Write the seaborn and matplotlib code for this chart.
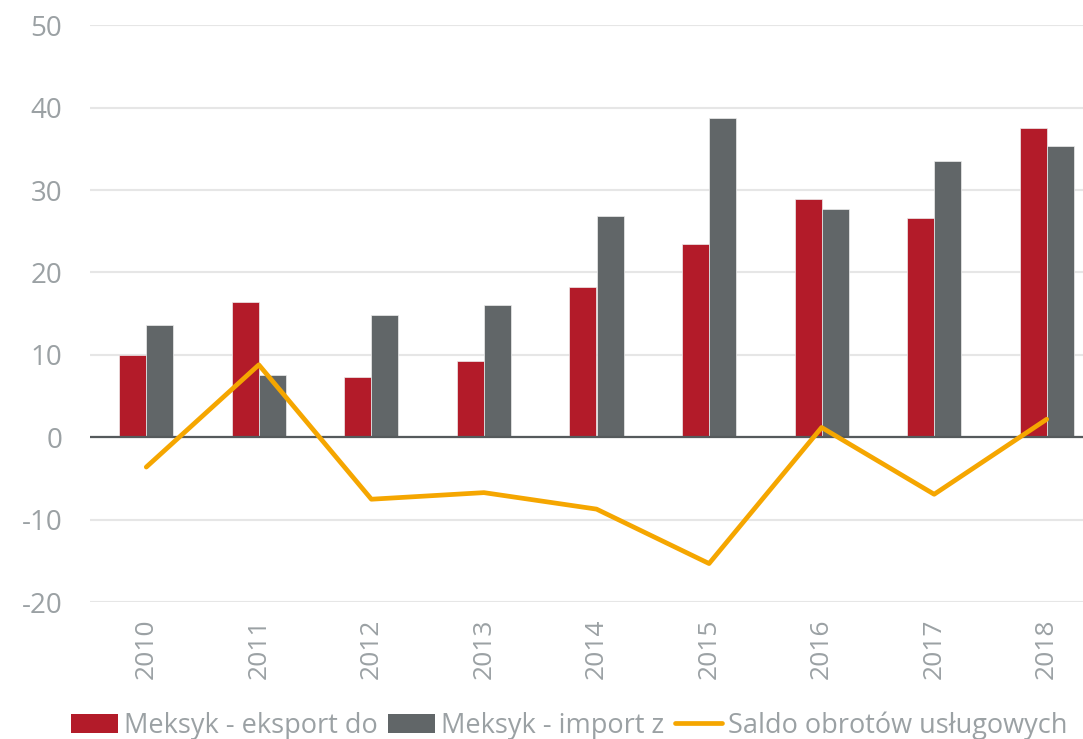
import matplotlib

matplotlib.use("Agg")
import matplotlib.pyplot as plt
import numpy as np
import pandas as pd
import seaborn as sns
from matplotlib.lines import Line2D
from matplotlib.patches import Patch

YEARS = ["2010", "2011", "2012", "2013", "2014", "2015", "2016", "2017", "2018"]
EXPORT = [10.0, 16.4, 7.3, 9.3, 18.2, 23.4, 28.9, 26.6, 37.5]
IMPORT = [13.6, 7.6, 14.8, 16.0, 26.8, 38.7, 27.7, 33.5, 35.3]
SALDO = [-3.6, 8.8, -7.5, -6.7, -8.7, -15.3, 1.2, -6.9, 2.2]

LABEL_EXPORT = "Meksyk - eksport do"
LABEL_IMPORT = "Meksyk - import z"
LABEL_SALDO = "Saldo obrotów usługowych"

RED = "#B31B29"
GREY = "#616668"
ORANGE = "#F5A600"
TEXT_GREY = "#9BA1A4"


def main() -> None:
    sns.set_theme(style="white")
    plt.rcParams["font.family"] = ["Open Sans", "DejaVu Sans"]
    plt.rcParams["axes.unicode_minus"] = False

    bars = pd.DataFrame(
        {
            "year": YEARS * 2,
            "value": EXPORT + IMPORT,
            "series": [LABEL_EXPORT] * len(YEARS) + [LABEL_IMPORT] * len(YEARS),
        }
    )

    fig = plt.figure(figsize=(10.83, 7.39), dpi=100)
    ax = fig.add_axes([90 / 1083, 0.185, (1103 - 90) / 1083, 0.781])

    ax.grid(axis="y", color="#E6E6E6", linewidth=1.5, zorder=0)
    ax.set_axisbelow(True)

    sns.barplot(
        data=bars,
        x="year",
        y="value",
        hue="series",
        palette=[RED, GREY],
        saturation=1,
        width=0.48,
        gap=0,
        edgecolor="#EDEDED",
        linewidth=0.5,
        legend=False,
        ax=ax,
        zorder=2,
    )
    ax.axhline(0, color="#555A5C", linewidth=1.6, zorder=3)

    sns.lineplot(
        x=np.arange(len(YEARS)),
        y=SALDO,
        color=ORANGE,
        linewidth=3.4,
        ax=ax,
        zorder=4,
    )

    ax.set_xlim(-0.5, len(YEARS) - 0.5)
    ax.set_ylim(-20, 50)
    ax.set_yticks(range(-20, 51, 10))
    ax.set_xticks(range(len(YEARS)), YEARS, rotation=90)
    ax.set_xlabel("")
    ax.set_ylabel("")
    ax.tick_params(axis="y", length=0, pad=20, labelsize=20, labelcolor=TEXT_GREY)
    ax.tick_params(axis="x", length=0, pad=12, labelsize=19, labelcolor=TEXT_GREY)
    for spine in ax.spines.values():
        spine.set_visible(False)

    handles = [
        Patch(facecolor=RED, edgecolor="none"),
        Patch(facecolor=GREY, edgecolor="none"),
        Line2D([0], [0], color=ORANGE, linewidth=3.4),
    ]
    fig.legend(
        handles,
        [LABEL_EXPORT, LABEL_IMPORT, LABEL_SALDO],
        loc="center",
        bbox_to_anchor=(569 / 1083, 0.018),
        ncol=3,
        frameon=False,
        fontsize=19.5,
        labelcolor=TEXT_GREY,
        handlelength=1.75,
        handleheight=0.7,
        handletextpad=0.2,
        columnspacing=0.4,
    )

    fig.savefig("out.png", dpi=100, facecolor="white")
    plt.close(fig)


if __name__ == "__main__":
    main()
